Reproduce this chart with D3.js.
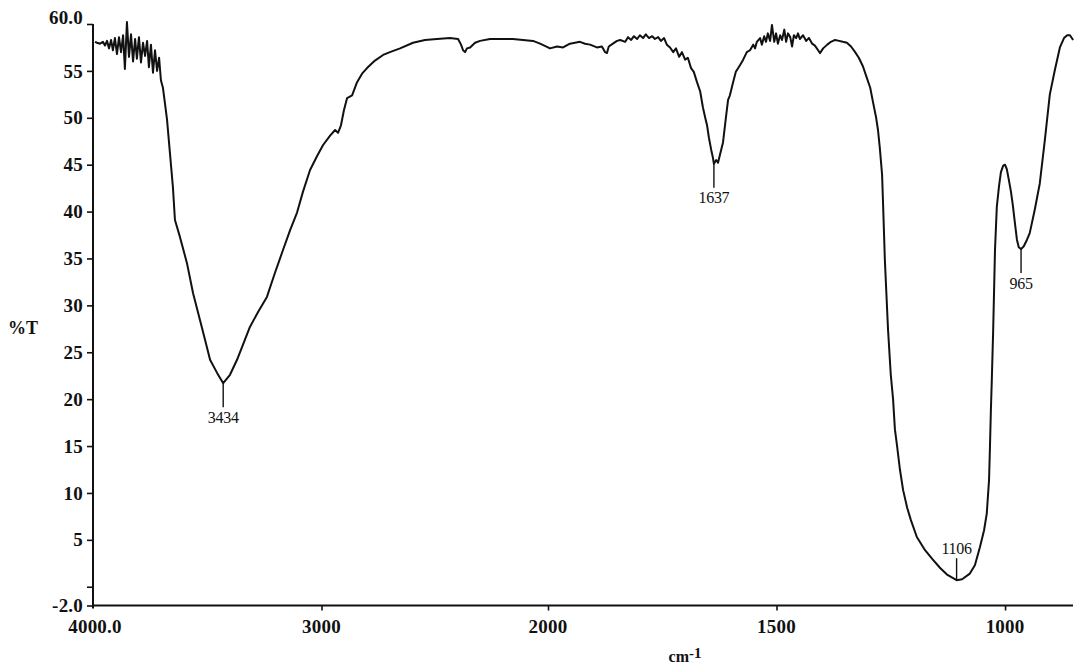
<!DOCTYPE html>
<html>
<head>
<meta charset="utf-8">
<script src="https://cdn.jsdelivr.net/npm/d3@7"></script>
<style>
  html, body { margin: 0; padding: 0; background: #fff; }
  svg { display: block; }
  text { font-family: "Liberation Serif", "Times New Roman", serif; fill: #111; }
</style>
</head>
<body>
<svg id="chart" width="1078" height="667"></svg>
<script>
// ---- Data ----
const wavenumbers = [
  4000,3991,3978,3965,3956,3947,3938,3929,3921,3912,3903,3894,3885,3876,3868,3859,3850,3841,3832,3823,
  3815,3806,3797,3788,3779,3770,3762,3753,3744,3735,3726,3717,3709,3700,3691,3682,3669,3656,3647,3625,
  3594,3567,3536,3514,3492,3461,3434,3404,3373,3347,3316,3280,3241,3205,3170,3139,3108,3082,3051,3020,
  2993,2962,2940,2927,2914,2901,2887,2865,2843,2821,2799,2764,2728,2698,2653,2596,2543,2490,2433,2397,
  2384,2375,2366,2358,2344,2322,2300,2256,2212,2155,2110,2066,2035,2000,1996,1980,1967,1952,1930,1919,
  1908,1893,1882,1875,1871,1867,1858,1849,1842,1831,1825,1818,1812,1805,1799,1792,1786,1779,1772,1766,
  1759,1753,1746,1740,1733,1726,1720,1713,1707,1700,1694,1687,1681,1674,1667,1661,1656,1652,1648,1643,
  1639,1637,1632,1628,1624,1617,1611,1606,1602,1595,1589,1580,1573,1565,1558,1551,1547,1543,1536,1532,
  1527,1523,1519,1514,1510,1505,1501,1497,1492,1488,1483,1479,1475,1470,1466,1462,1457,1453,1449,1442,
  1435,1429,1422,1416,1409,1405,1398,1389,1381,1372,1363,1355,1346,1337,1328,1320,1311,1302,1295,1289,
  1282,1278,1274,1269,1267,1263,1256,1250,1245,1241,1236,1230,1223,1214,1206,1193,1175,1158,1142,1127,
  1106,1094,1077,1066,1055,1046,1040,1035,1033,1031,1029,1026,1024,1022,1018,1013,1009,1004,1000,996,
  991,987,983,978,974,970,965,959,952,946,935,924,913,902,891,880,871,864,858,851
];
const transmittance = [
  58.1,58.0,57.9,58.1,57.7,58.2,57.4,58.3,57.2,58.5,56.8,58.6,57.0,58.8,55.2,60.2,56.5,58.9,56.0,58.4,
  56.3,58.6,55.9,58.0,56.6,58.2,55.4,57.8,54.8,57.2,55.0,56.4,54.0,53.2,51.5,49.8,46.2,42.6,39.1,37.3,
  34.5,31.3,28.4,26.3,24.2,22.8,21.7,22.6,24.2,25.8,27.7,29.3,30.9,33.5,35.9,38.0,39.9,42.1,44.4,45.9,
  47.1,48.1,48.7,48.4,49.2,50.8,52.1,52.4,53.8,54.7,55.3,56.1,56.7,57.0,57.4,58.0,58.3,58.4,58.5,58.4,
  57.8,57.2,57.0,57.4,57.5,58.0,58.2,58.4,58.4,58.4,58.3,58.2,57.9,57.5,57.4,57.6,57.5,57.9,58.1,57.9,
  57.8,57.5,57.6,57.0,56.9,57.6,57.9,58.2,58.3,58.1,58.6,58.3,58.7,58.4,58.8,58.5,58.9,58.5,58.7,58.4,
  58.6,58.2,58.5,57.8,57.5,57.0,57.4,56.5,57.0,56.2,56.4,55.3,54.9,53.8,52.8,51.1,50.0,49.2,47.9,46.6,
  45.7,45.1,45.5,45.2,46.0,47.4,49.9,51.9,52.4,53.8,54.9,55.6,56.2,57.0,57.2,57.8,57.4,58.1,58.5,57.8,
  58.7,58.1,59.0,58.2,59.9,58.1,59.0,57.9,58.8,58.3,59.4,58.1,59.0,58.6,57.6,58.8,58.5,59.0,58.4,58.8,
  58.2,58.5,57.9,57.7,57.2,56.9,57.4,57.8,58.1,58.3,58.2,58.1,58.0,57.6,57.0,56.4,55.5,54.2,53.2,51.7,
  50.0,48.7,46.8,43.9,41.0,34.9,27.4,22.6,20.0,16.8,14.9,12.5,10.3,8.4,7.1,5.3,3.9,2.9,2.0,1.3,
  0.7,0.8,1.4,2.3,4.2,6.0,7.8,11.4,14.9,18.8,22.0,27.3,31.6,35.9,40.5,42.8,44.2,44.9,45.0,44.5,
  43.2,42.1,40.7,38.6,37.0,36.2,36.0,36.3,37.0,37.7,40.2,43.0,47.6,52.5,55.1,57.5,58.5,58.8,58.8,58.3
];
const peakWavenumbers = [3434, 1637, 1106, 965];
const peakLabels = ["3434", "1637", "1106", "965"];
const xTickValues = [4000, 3000, 2000, 1500, 1000];
const xTickLabels = ["4000.0", "3000", "2000", "1500", "1000"];
const yTickValues = [60, 55, 50, 45, 40, 35, 30, 25, 20, 15, 10, 5, 0, -2];
const yTickLabels = ["60.0", "55", "50", "45", "40", "35", "30", "25", "20", "15", "10", "5", "", "-2.0"];
const yAxisTitle = "%T";
const xAxisTitle = "cm";
const xAxisTitleSup = "-1";

// ---- Scales (FTIR scale change at 2000 cm-1) ----
const svg = d3.select("#chart");
const x = d3.scaleLinear().domain([4000, 2000, 850]).range([95, 548, 1073.6]);
const y = d3.scaleLinear().domain([-2, 60]).range([605.5, 24]);

// ---- Axes ----
const yAxis = d3.axisLeft(y).tickValues(yTickValues).tickSize(6).tickFormat("");
const gy = svg.append("g").attr("transform", "translate(93,0)").call(yAxis);
gy.select(".domain").remove();
gy.selectAll(".tick line").attr("stroke", "#111").attr("stroke-width", 1.6);
svg.append("line").attr("x1", 93).attr("x2", 93).attr("y1", y(60)).attr("y2", y(-2) + 3)
  .attr("stroke", "#111").attr("stroke-width", 2);

const xAxis = d3.axisBottom(x).tickValues(xTickValues.slice(1)).tickSize(5).tickFormat("");
const gx = svg.append("g").attr("transform", `translate(0,${y(-2)})`).call(xAxis);
gx.select(".domain").remove();
gx.selectAll(".tick line").attr("stroke", "#111").attr("stroke-width", 1.6);
svg.append("line").attr("x1", 92).attr("x2", 1073).attr("y1", y(-2)).attr("y2", y(-2))
  .attr("stroke", "#111").attr("stroke-width", 1.8);

// y tick labels
svg.append("g").selectAll("text").data(yTickValues).join("text")
  .attr("x", 83)
  .attr("y", d => (d === 60 ? y(d) - 7 : y(d)))
  .attr("dy", "0.35em")
  .attr("text-anchor", "end")
  .attr("font-size", 19).attr("font-weight", "bold").attr("letter-spacing", "0.2")
  .text((d, i) => yTickLabels[i]);

// x tick labels
svg.append("g").selectAll("text").data(xTickValues).join("text")
  .attr("x", d => x(d))
  .attr("y", y(-2) + 21)
  .attr("dy", "0.35em")
  .attr("text-anchor", "middle")
  .attr("font-size", 19).attr("font-weight", "bold").attr("letter-spacing", "0.2")
  .text((d, i) => xTickLabels[i]);

// axis titles
svg.append("text").attr("x", 8).attr("y", 328).attr("dy", "0.35em")
  .attr("font-size", 18).attr("font-weight", "bold").text(yAxisTitle);
const xt = svg.append("text").attr("x", 685).attr("y", 656).attr("dy", "0.35em")
  .attr("text-anchor", "middle").attr("font-size", 16).attr("font-weight", "bold");
xt.append("tspan").text(xAxisTitle);
xt.append("tspan").attr("dy", "-4").attr("font-size", 15).text(xAxisTitleSup);

// ---- Spectrum line ----
const data = wavenumbers.map((w, i) => ({ w, t: transmittance[i] }));
svg.append("path").datum(data)
  .attr("fill", "none").attr("stroke", "#111").attr("stroke-width", 2)
  .attr("stroke-linejoin", "round")
  .attr("d", d3.line().x(d => x(d.w)).y(d => y(d.t)));

// ---- Peak annotations ----
const tAt = w => { const i = wavenumbers.indexOf(w); return transmittance[i]; };
peakWavenumbers.forEach((w, i) => {
  const px = x(w), py = y(tAt(w));
  const above = w === 1106;
  const g = svg.append("g");
  if (above) {
    g.append("line").attr("x1", px).attr("x2", px).attr("y1", py).attr("y2", py - 22)
      .attr("stroke", "#111").attr("stroke-width", 1.4);
    g.append("text").attr("x", px).attr("y", py - 32).attr("dy", "0.35em")
      .attr("text-anchor", "middle").attr("font-size", 16).attr("letter-spacing", "-0.3")
      .text(peakLabels[i]);
  } else {
    g.append("line").attr("x1", px).attr("x2", px).attr("y1", py).attr("y2", py + 24)
      .attr("stroke", "#111").attr("stroke-width", 1.4);
    g.append("text").attr("x", px).attr("y", py + 34).attr("dy", "0.35em")
      .attr("text-anchor", "middle").attr("font-size", 16).attr("letter-spacing", "-0.3")
      .text(peakLabels[i]);
  }
});
</script>
</body>
</html>
